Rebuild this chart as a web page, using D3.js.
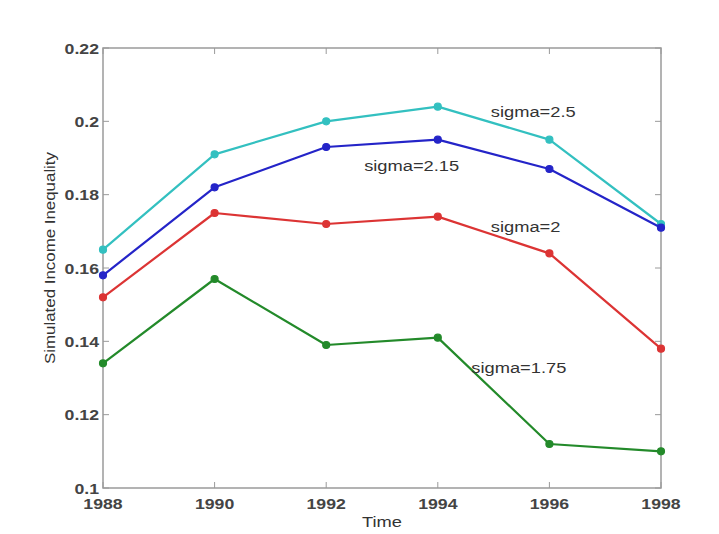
<!DOCTYPE html>
<html><head><meta charset="utf-8">
<script src="https://cdn.jsdelivr.net/npm/d3@7"></script>
<style>body{margin:0;background:#fff}svg{display:block}text{font-family:"Liberation Sans",Arial,sans-serif}</style>
</head><body>
<svg id="c" width="719" height="534"></svg>
<script>
const years = [1988, 1990, 1992, 1994, 1996, 1998];
const sigma25 = [0.165, 0.191, 0.200, 0.204, 0.195, 0.172];
const sigma215 = [0.158, 0.182, 0.193, 0.195, 0.187, 0.171];
const sigma2 = [0.152, 0.175, 0.172, 0.174, 0.164, 0.138];
const sigma175 = [0.134, 0.157, 0.139, 0.141, 0.112, 0.110];
const seriesNames = ["sigma=2.5", "sigma=2.15", "sigma=2", "sigma=1.75"];
const yTicks = [0.1, 0.12, 0.14, 0.16, 0.18, 0.2, 0.22];
const xTicks = [1988, 1990, 1992, 1994, 1996, 1998];

const series = [
  {name: seriesNames[0], values: sigma25, color: "#33c0c0", label: [1994.95, 0.2012]},
  {name: seriesNames[1], values: sigma215, color: "#2424c8", label: [1992.68, 0.1865]},
  {name: seriesNames[2], values: sigma2, color: "#dc3434", label: [1994.95, 0.1697]},
  {name: seriesNames[3], values: sigma175, color: "#238a2a", label: [1994.6, 0.1315]}
];

const svg = d3.select("#c");
const L = 103, R = 661, T = 48, B = 488;
const x = d3.scaleLinear().domain([1988, 1998]).range([L, R]);
const y = d3.scaleLinear().domain([0.1, 0.22]).range([B, T]);
const axisColor = "#9a9a9a";
const SX = 1.22;

function txt(px, py, str, opts) {
  const t = svg.append("text")
    .attr("transform", `translate(${px},${py}) scale(${SX},1)`)
    .attr("text-anchor", opts.anchor || "start")
    .attr("font-size", opts.size || 15)
    .attr("font-weight", opts.weight || "normal")
    .attr("fill", opts.fill || "#333")
    .text(str);
  return t;
}

svg.append("rect").attr("x", L).attr("y", T).attr("width", R - L).attr("height", B - T)
  .attr("fill", "none").attr("stroke", axisColor).attr("stroke-width", 1.5);

const fmtY = d => String(+d.toFixed(2));
const tickLen = 6;
yTicks.forEach(t => {
  const yy = y(t);
  svg.append("line").attr("x1", L).attr("x2", L + tickLen).attr("y1", yy).attr("y2", yy).attr("stroke", axisColor);
  svg.append("line").attr("x1", R).attr("x2", R - tickLen).attr("y1", yy).attr("y2", yy).attr("stroke", axisColor);
  txt(L - 4, yy + 5.5, fmtY(t), {anchor: "end", size: 14.5, weight: "bold", fill: "#444"});
});
xTicks.forEach(t => {
  const xx = x(t);
  svg.append("line").attr("x1", xx).attr("x2", xx).attr("y1", B).attr("y2", B - tickLen).attr("stroke", axisColor);
  svg.append("line").attr("x1", xx).attr("x2", xx).attr("y1", T).attr("y2", T + tickLen).attr("stroke", axisColor);
  txt(xx, B + 21, t, {anchor: "middle", size: 14.5, weight: "bold", fill: "#444"});
});

txt((L + R) / 2, 527, "Time", {anchor: "middle", size: 15});
svg.append("text").attr("transform", `translate(55,258) rotate(-90)`).attr("text-anchor", "middle")
  .attr("font-size", 14).attr("fill", "#333")
  .attr("textLength", 212).attr("lengthAdjust", "spacingAndGlyphs")
  .text("Simulated Income Inequality");

const line = d3.line().x((d, i) => x(years[i])).y(d => y(d));
series.forEach(s => {
  svg.append("path").attr("d", line(s.values)).attr("fill", "none")
    .attr("stroke", s.color).attr("stroke-width", 2.2).attr("stroke-linejoin", "round");
  svg.selectAll(null).data(s.values).enter().append("circle")
    .attr("cx", (d, i) => x(years[i])).attr("cy", d => y(d)).attr("r", 3.5)
    .attr("fill", s.color).attr("stroke", s.color).attr("stroke-width", 1.2);
  txt(x(s.label[0]), y(s.label[1]), s.name, {size: 15, fill: "#333"});
});
</script>
</body></html>
